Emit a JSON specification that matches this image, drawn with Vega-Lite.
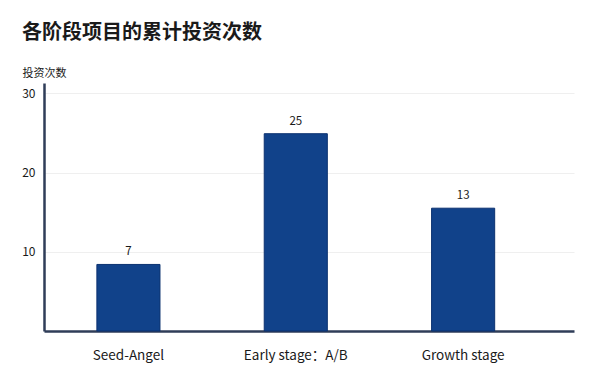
{
  "$schema": "https://vega.github.io/schema/vega-lite/v6.json",
  "autosize": {"type": "none"},
  "width": 530,
  "height": 248,
  "padding": {"left": 44, "top": 83, "right": 22, "bottom": 49},
  "background": "#ffffff",
  "title": {
    "text": "各阶段项目的累计投资次数",
    "anchor": "start",
    "frame": "group",
    "dx": -22,
    "fontSize": 20,
    "fontWeight": "bold",
    "font": "Noto Sans CJK SC",
    "color": "#1a1a1a",
    "offset": 24
  },
  "config": {
    "view": {"stroke": null},
    "font": "Noto Sans CJK SC"
  },
  "data": {
    "values": [
      {"stage": "Seed-Angel", "value": 8.4, "label": "7"},
      {"stage": "Early stage：A/B", "value": 24.9, "label": "25"},
      {"stage": "Growth stage", "value": 15.5, "label": "13"}
    ]
  },
  "encoding": {
    "x": {
      "field": "stage",
      "type": "nominal",
      "sort": null,
      "scale": {"paddingInner": 0.623, "paddingOuter": 0.395, "align": 0.4},
      "axis": {
        "title": null,
        "labelAngle": 0,
        "labelFontSize": 13.5,
        "labelColor": "#1a1a1a",
        "labelPadding": 17,
        "ticks": false,
        "domainColor": "#2f3d58",
        "domainWidth": 2.5
      }
    },
    "y": {
      "field": "value",
      "type": "quantitative",
      "scale": {"domain": [0, 31.3], "nice": false},
      "axis": {
        "title": "投资次数",
        "titleAngle": 0,
        "titleAlign": "left",
        "titleBaseline": "middle",
        "titleX": -22,
        "titleY": -10,
        "titleFontSize": 11,
        "titleFontWeight": "normal",
        "titleColor": "#1a1a1a",
        "values": [10, 20, 30],
        "labelFontSize": 12,
        "labelColor": "#1a1a1a",
        "labelPadding": 9,
        "ticks": false,
        "domainColor": "#2f3d58",
        "domainWidth": 2.5,
        "grid": true,
        "gridColor": "#efefef",
        "gridWidth": 1
      }
    }
  },
  "layer": [
    {
      "mark": {"type": "bar", "color": "#11428a", "stroke": "#0b3170", "strokeWidth": 1}
    },
    {
      "mark": {"type": "text", "dy": -12, "fontSize": 11.5, "color": "#1a1a1a", "baseline": "middle"},
      "encoding": {"text": {"field": "label"}}
    }
  ]
}
